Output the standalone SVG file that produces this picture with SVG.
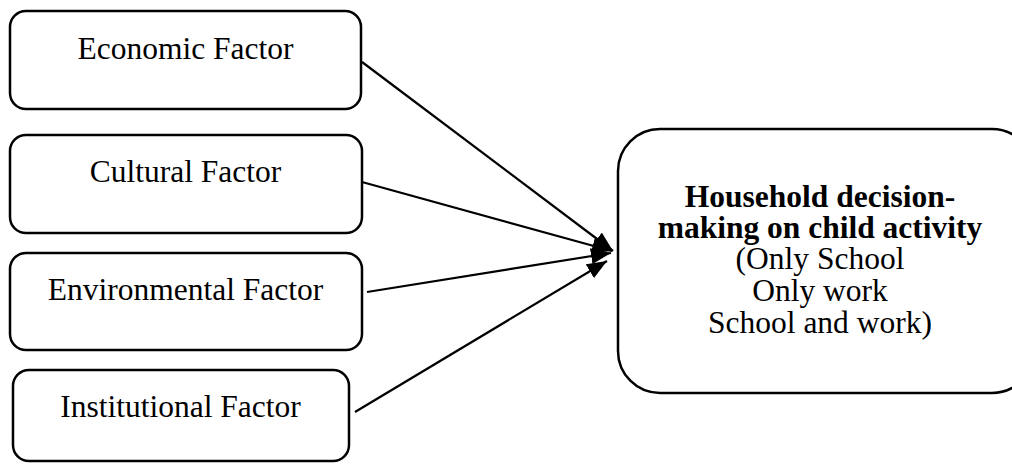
<svg xmlns="http://www.w3.org/2000/svg" width="1012" height="464" viewBox="0 0 1012 464">
<style>
.box{fill:#fff;stroke:#000;stroke-width:2.5}
.t{font-family:"Liberation Serif","Times New Roman",serif;font-size:31.5px;fill:#000;text-anchor:middle}
.b{font-weight:bold}
.c{stroke:#000;stroke-width:2.2;fill:none;marker-end:url(#ah)}
</style>
<defs>
<marker id="ah" viewBox="0 0 20 16" refX="20" refY="8" markerWidth="20" markerHeight="16" markerUnits="userSpaceOnUse" orient="auto">
<path d="M0,0 L20,8 L0,16 z" fill="#000"/>
</marker>
</defs>
<rect width="1012" height="464" fill="#fff"/>
<g id="economic">
<rect class="box" x="10" y="11" width="351" height="98" rx="16"/>
<text class="t" x="185.5" y="59">Economic Factor</text>
</g>
<g id="cultural">
<rect class="box" x="10" y="135" width="352" height="98" rx="16"/>
<text class="t" x="185.5" y="182">Cultural Factor</text>
</g>
<g id="environmental">
<rect class="box" x="10" y="253" width="352" height="97" rx="16"/>
<text class="t" x="185.5" y="300">Environmental Factor</text>
</g>
<g id="institutional">
<rect class="box" x="13" y="370" width="336" height="91" rx="16"/>
<text class="t" x="180.5" y="417">Institutional Factor</text>
</g>
<g id="household">
<rect class="box" x="618" y="129" width="416" height="264" rx="42"/>
<text class="t b" x="820" y="207">Household decision-</text>
<text class="t b" x="820" y="238">making on child activity</text>
<text class="t" x="820" y="269">(Only School</text>
<text class="t" x="820" y="301">Only work</text>
<text class="t" x="820" y="333">School and work)</text>
</g>
<g id="connectors">
<line class="c" x1="362" y1="62" x2="613" y2="251"/>
<line class="c" x1="362" y1="182" x2="612" y2="251"/>
<line class="c" x1="367" y1="292" x2="611" y2="253"/>
<line class="c" x1="355" y1="412" x2="607" y2="261"/>
</g>
</svg>
